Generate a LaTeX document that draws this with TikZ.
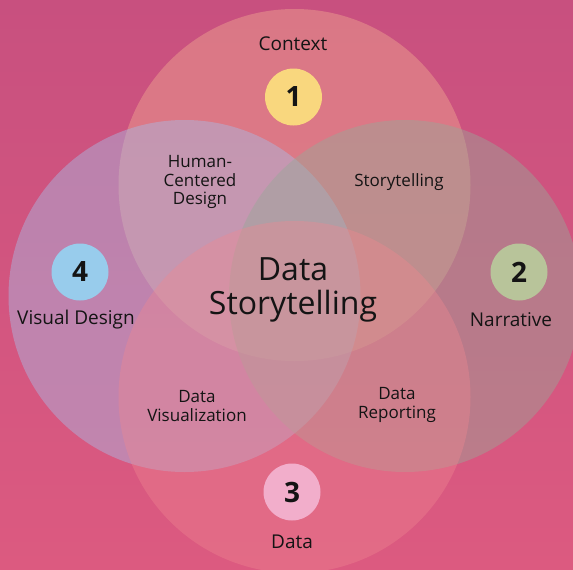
\documentclass[tikz,border=0pt]{standalone}
\usepackage{fontspec}
\setmainfont{Open Sans}
\definecolor{bgtop}{HTML}{C8507F}
\definecolor{bgbot}{HTML}{DC5A80}
\definecolor{ctop}{HTML}{F0A890}
\definecolor{cleft}{HTML}{A8BCE6}
\definecolor{cright}{HTML}{98A898}
\definecolor{cbot}{HTML}{F08890}
\definecolor{yel}{HTML}{F9D77E}
\definecolor{sage}{HTML}{B8C49A}
\definecolor{lpink}{HTML}{F2AECB}
\definecolor{lblue}{HTML}{98CCEC}
\definecolor{ink}{HTML}{141414}
\begin{document}
\begin{tikzpicture}[x=1pt,y=-1pt,
  num/.style={circle, minimum size=57pt, inner sep=0pt, text=ink,
    font=\fontsize{28}{28}\selectfont\bfseries},
  lab/.style={text=ink, inner sep=0pt, font=\fontsize{19}{21}\selectfont},
  small/.style={text=ink, inner sep=0pt, align=center, font=\fontsize{17}{18.5}\selectfont},
  big/.style={text=ink, inner sep=0pt, align=center, font=\fontsize{32}{34}\selectfont},
  venn/.style={fill opacity=0.45}]
\useasboundingbox (0,0) rectangle (573,570);
\clip (0,0) rectangle (573,570);
\shade[top color=bgtop, bottom color=bgbot] (0,0) rectangle (573,570);
\fill[venn, fill=ctop] (294.5,185) circle (176);
\fill[venn, fill=cleft] (184.5,296) circle (176);
\fill[venn, fill=cright] (405,296) circle (176);
\fill[venn, fill=cbot, fill opacity=0.38] (294.5,397) circle (176);
\node[num, fill=yel] (n1) at (293.5,97) {1};
\node[num, fill=sage] (n2) at (519,272) {2};
\node[num, fill=lpink] (n3) at (292,492) {3};
\node[num, fill=lblue] (n4) at (80,272) {4};
\node[lab] (context) at (293,44) {Context};
\node[lab] (narr) at (511,320) {Narrative};
\node[lab] (data) at (292,542) {Data};
\node[lab] (visual) at (76,320) {Visual Design};
\node[small] (hcd) at (200,182) {Human-\\Centered\\Design};
\node[small] (st) at (399,182) {Storytelling};
\node[small] (dv) at (197,406) {Data\\Visualization};
\node[small] (dr) at (397,405) {Data\\Reporting};
\node[big] (ds) at (293,290) {Data\\Storytelling};
\end{tikzpicture}
\end{document}
